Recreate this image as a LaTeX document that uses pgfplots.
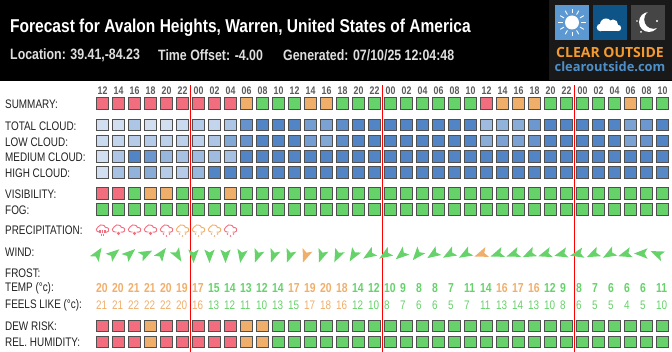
\documentclass[border=0pt]{standalone}
\usepackage{fontspec}
\setmainfont[FakeStretch=0.8]{Liberation Sans}
\newfontfamily\titlefont[FakeStretch=0.835]{Liberation Sans}
\newfontfamily\subfont[FakeStretch=0.825]{Liberation Sans}
\newfontfamily\logofont{Open Sans}
\usepackage{pgfplots}
\usepackage{pgfplotstable}
\pgfplotsset{compat=1.18}
\definecolor{cR}{HTML}{F26D7D}
\definecolor{cO}{HTML}{F0AE6B}
\definecolor{cG}{HTML}{66D26A}
\definecolor{cB}{HTML}{505050}
\definecolor{cHr}{HTML}{5A5A5A}
\definecolor{cLbl}{HTML}{222222}

% i, hour, status rows (R,O,G), cloud rows (percent)
\pgfplotstableread{
i hour summary vis fog dew hum total low medium high
0 12 R R G R R 10 15 10 10
1 14 R R G R R 10 20 35 40
2 16 R G G R R 35 30 100 55
3 18 R O G O O 10 30 80 60
4 20 R O G R R 10 25 50 30
5 22 R G G R R 15 25 40 30
6 00 R G G R R 30 25 45 50
7 02 R G G R R 20 35 45 100
8 04 R O G R R 35 65 40 100
9 06 O G G O O 85 85 100 100
10 08 G G G O O 100 100 100 100
11 10 G G G G G 100 100 100 100
12 12 G G G G G 100 100 100 100
13 14 O G G G G 75 75 100 100
14 16 O G G G G 70 65 100 100
15 18 G G G G G 90 90 100 100
16 20 G G G G G 100 100 100 100
17 22 G G G G G 100 100 100 100
18 00 G G G G G 100 100 100 100
19 02 G G G G G 100 100 100 100
20 04 G G G G G 100 100 100 100
21 06 G G G G G 100 100 100 100
22 08 G G G G G 100 100 100 100
23 10 G G G G G 100 100 100 100
24 12 R G G G G 45 60 100 100
25 14 O G G G G 55 70 100 100
26 16 O G G G G 60 70 100 100
27 18 O G G G G 80 85 100 100
28 20 G G G G G 100 100 100 100
29 22 G G G G G 100 100 100 100
30 00 G G G G G 100 100 100 100
31 02 G G G G G 100 100 100 100
32 04 G G G G G 100 100 100 100
33 06 O G G G G 70 70 100 100
34 08 G G G G G 80 85 100 100
35 10 G G G G G 100 100 100 95
}\cells

% wind: index, arrow direction (deg), y of arrow
\pgfplotstableread{
i ang y
0 57 254
1 39 254
2 41 254
3 27 254
4 54 254
5 -60 255
6 -90 255.5
7 -90 255.5
8 -90 255.5
9 -100 255.5
10 -110 255.5
11 -110 255.5
12 -110 255.5
14 -110 255.5
15 -115 255.5
16 -121 255
17 -147 254.5
18 -147 254.5
19 -140 254.5
20 -130 254.5
21 -146 254
22 -150 254
23 -150 254
25 -160 254
26 -160 254
27 -155 254
28 -162 254
29 -165 254
30 -167 254
31 -155 254
32 -150 254
33 -163 254
34 180 253.5
35 157 254
}\windG
\pgfplotstableread{
i ang y
13 -110 255.5
24 -160 254
}\windO

\pgfplotstableread{
i v
0 20
1 20
2 21
3 21
4 20
5 19
6 17
12 17
13 19
14 20
15 18
25 16
26 17
27 16
}\tempO
\pgfplotstableread{
i v
7 15
8 14
9 13
10 12
11 14
16 14
17 12
18 10
19 9
20 8
21 8
22 7
23 11
24 14
28 12
29 9
30 8
31 7
32 6
33 6
34 6
35 11
}\tempG
\pgfplotstableread{
i v
0 21
1 21
2 22
3 22
4 22
5 20
6 16
13 17
14 18
15 16
}\feelO
\pgfplotstableread{
i v
7 13
8 12
9 11
10 10
11 13
12 15
16 12
17 10
18 8
19 7
20 6
21 6
22 5
23 7
24 11
25 13
26 14
27 13
28 10
29 8
30 6
31 5
32 5
33 4
34 5
35 10
}\feelG

\pgfdeclareplotmark{windarrow}{%
  \pgfpathmoveto{\pgfqpoint{7.5bp}{0bp}}%
  \pgfpathlineto{\pgfqpoint{-6bp}{5.2bp}}%
  \pgfpathlineto{\pgfqpoint{-3bp}{0bp}}%
  \pgfpathlineto{\pgfqpoint{-6bp}{-5.2bp}}%
  \pgfpathclose\pgfusepath{fill}}

\newcommand\cloudpath{%
  \pgfpathmoveto{\pgfqpoint{-3.6bp}{-3.2bp}}%
  \pgfpatharc{-90}{-250}{2.6bp}%
  \pgfpatharc{150}{20}{4.3bp}%
  \pgfpatharc{110}{-90}{2.3bp}%
  \pgfpathlineto{\pgfqpoint{2bp}{-3.2bp}}%
  \pgfpathmoveto{\pgfqpoint{-2bp}{-3.2bp}}%
  \pgfpathlineto{\pgfqpoint{-3.6bp}{-3.2bp}}%
  \pgfusepath{stroke}}
\pgfdeclareplotmark{cloudrain}{%
  \cloudpath
  \pgfsetlinewidth{1.1bp}%
  \pgfpathmoveto{\pgfqpoint{-2.5bp}{-1.5bp}}\pgfpathlineto{\pgfqpoint{-2.5bp}{-4bp}}%
  \pgfpathmoveto{\pgfqpoint{0bp}{-1.5bp}}\pgfpathlineto{\pgfqpoint{0bp}{-4bp}}%
  \pgfpathmoveto{\pgfqpoint{2.5bp}{-1.5bp}}\pgfpathlineto{\pgfqpoint{2.5bp}{-4bp}}%
  \pgfpathmoveto{\pgfqpoint{-1.2bp}{-5bp}}\pgfpathlineto{\pgfqpoint{-1.2bp}{-7.2bp}}%
  \pgfpathmoveto{\pgfqpoint{1.2bp}{-5bp}}\pgfpathlineto{\pgfqpoint{1.2bp}{-7.2bp}}%
  \pgfusepath{stroke}}
\pgfdeclareplotmark{clouddot}{%
  \cloudpath
  \pgfpathcircle{\pgfqpoint{0bp}{-4.6bp}}{1.7bp}\pgfusepath{fill}}
\pgfdeclareplotmark{clouddots}{%
  \cloudpath
  \pgfpathcircle{\pgfqpoint{-3bp}{-5.2bp}}{0.8bp}%
  \pgfpathcircle{\pgfqpoint{3bp}{-5.2bp}}{0.8bp}%
  \pgfpathcircle{\pgfqpoint{0bp}{-7.2bp}}{0.9bp}\pgfusepath{fill}}

\pgfplotsset{
  statusrow/.style={
    only marks, scatter, scatter src=explicit symbolic,
    scatter/classes={
      R={mark=square*,mark size=5.75bp,line width=1bp,draw=cB,fill=cR},
      O={mark=square*,mark size=5.75bp,line width=1bp,draw=cB,fill=cO},
      G={mark=square*,mark size=5.75bp,line width=1bp,draw=cB,fill=cG}}},
  cloudrow/.style={
    only marks, scatter, point meta=explicit, mark=square*, mark size=5.75bp,
    mark options={line width=1bp},
    scatter/use mapped color={draw=cB,fill=mapped color}},
  numrow/.style={
    draw=none, mark=none, point meta=explicit symbolic,
    nodes near coords={\pgfplotspointmeta},
    every node near coord/.style={anchor=west,inner sep=0pt,#1}},
  windrow/.style={
    only marks, scatter, point meta=explicit symbolic, mark=windarrow,
    scatter/@pre marker code/.code={\pgfscope\pgftransformrotate{\pgfplotspointmeta}},
    scatter/@post marker code/.code={\endpgfscope},
    #1},
}
\newcommand\lbl[2]{\node[anchor=west,inner sep=0pt,text=cLbl,font=\fontsize{12.4bp}{13bp}\selectfont] at (5bp,{352bp-#1bp}) {#2};}

\begin{document}
\begin{tikzpicture}[x=1bp,y=1bp]
\path[use as bounding box] (0,0) rectangle (672bp,352bp);
\begin{axis}[
  at={(0,0)}, anchor=south west,
  scale only axis, width=672bp, height=352bp,
  xmin=0, xmax=672, ymin=0, ymax=352, y dir=reverse,
  axis lines=none,
  point meta min=0, point meta max=100,
  colormap={cloud}{rgb255(0)=(224,233,246) rgb255(100)=(81,133,197)},
]
% hours
\addplot[numrow={anchor=center,text=cHr,font=\bfseries\fontsize{11bp}{12bp}\selectfont}]
  table[x expr=102.5+16*\thisrow{i}, y expr=91, meta=hour] {\cells};
% status rows
\addplot[statusrow] table[x expr=102.5+16*\thisrow{i}, y expr=103.5, meta=summary] {\cells};
\addplot[statusrow] table[x expr=102.5+16*\thisrow{i}, y expr=193.5, meta=vis] {\cells};
\addplot[statusrow] table[x expr=102.5+16*\thisrow{i}, y expr=209.5, meta=fog] {\cells};
\addplot[statusrow] table[x expr=102.5+16*\thisrow{i}, y expr=325.8, meta=dew] {\cells};
\addplot[statusrow] table[x expr=102.5+16*\thisrow{i}, y expr=341.8, meta=hum] {\cells};
% cloud rows
\addplot[cloudrow] table[x expr=102.5+16*\thisrow{i}, y expr=125.2, meta=total] {\cells};
\addplot[cloudrow] table[x expr=102.5+16*\thisrow{i}, y expr=140.9, meta=low] {\cells};
\addplot[cloudrow] table[x expr=102.5+16*\thisrow{i}, y expr=156.6, meta=medium] {\cells};
\addplot[cloudrow] table[x expr=102.5+16*\thisrow{i}, y expr=172.4, meta=high] {\cells};
% precipitation
\addplot[only marks, mark=cloudrain, cR, mark options={line width=0.9bp}] coordinates {(102.5,228.8)};
\addplot[only marks, mark=clouddot, cR, mark options={line width=0.9bp}] coordinates {(118.5,228.8)(134.5,228.8)(150.5,228.8)};
\addplot[only marks, mark=clouddots, cR, mark options={line width=0.9bp}] coordinates {(166.5,228.8)(230.5,228.8)};
\addplot[only marks, mark=clouddots, cO, mark options={line width=0.9bp}] coordinates {(182.5,228.8)(198.5,228.8)(214.5,228.8)};
% wind
\addplot[windrow={cG}] table[x expr=97.5+16*\thisrow{i}, y=y, meta=ang] {\windG};
\addplot[windrow={cO}] table[x expr=97.5+16*\thisrow{i}, y=y, meta=ang] {\windO};
% temperature rows
\addplot[numrow={text=cO,font=\bfseries\fontsize{13bp}{14bp}\selectfont}] table[x expr=96+16*\thisrow{i}, y expr=288.3, meta=v] {\tempO};
\addplot[numrow={text=cG,font=\bfseries\fontsize{13bp}{14bp}\selectfont}] table[x expr=96+16*\thisrow{i}, y expr=288.3, meta=v] {\tempG};
\addplot[numrow={text=cO,font=\fontsize{12.4bp}{13bp}\selectfont}] table[x expr=96+16*\thisrow{i}, y expr=305.3, meta=v] {\feelO};
\addplot[numrow={text=cG,font=\fontsize{12.4bp}{13bp}\selectfont}] table[x expr=96+16*\thisrow{i}, y expr=305.3, meta=v] {\feelG};
% day separators
\addplot[red, line width=1.1bp] coordinates {(190.5,85)(190.5,352)};
\addplot[red, line width=1.1bp] coordinates {(382.5,85)(382.5,352)};
\addplot[red, line width=1.1bp] coordinates {(574.5,85)(574.5,352)};
\end{axis}

% row labels
\lbl{104}{SUMMARY:}
\lbl{126}{TOTAL CLOUD:}
\lbl{142}{LOW CLOUD:}
\lbl{157.5}{MEDIUM CLOUD:}
\lbl{173.5}{HIGH CLOUD:}
\lbl{194}{VISIBILITY:}
\lbl{210}{FOG:}
\lbl{230.5}{PRECIPITATION:}
\lbl{252}{WIND:}
\lbl{273}{FROST:}
\lbl{288.5}{TEMP (°c):}
\lbl{305}{FEELS LIKE (°c):}
\lbl{326}{DEW RISK:}
\lbl{342}{REL. HUMIDITY:}

% header
\fill[black] (0,352bp-81bp) rectangle (672bp,352bp);
\node[anchor=west,inner sep=0pt,text=white,font=\titlefont\bfseries\fontsize{18.6bp}{19bp}\selectfont] at (10bp,352bp-28bp) {Forecast for Avalon Heights, Warren, United States of America};
\begin{scope}[every node/.style={anchor=west,inner sep=0pt,text=black!13,font=\subfont\bfseries\fontsize{15bp}{16bp}\selectfont}]
\node at (10bp,352bp-55bp) {Location: 39.41,-84.23};
\node at (158bp,352bp-55bp) {Time Offset: -4.00};
\node at (283bp,352bp-55bp) {Generated: 07/10/25 12:04:48};
\end{scope}

% logo
\fill[black!90] (549bp,352bp-80bp) rectangle (672bp,352bp);
\begin{scope}[shift={(0,352bp)},x=1bp,y=-1bp]
\fill[fill={rgb,255:red,92;green,152;blue,209}] (555,5) rectangle (589,40);
\fill[fill={rgb,255:red,15;green,84;blue,135}] (593,5) rectangle (627,40);
\fill[fill=black!73] (631,5) rectangle (665,40);
% sun
\fill[white] (572,22.5) circle[radius=7];
\foreach \a in {0,30,...,330}{\draw[white,line width=0.9bp] (572,22.5)++(\a:9.2)--++(\a:4.4);}
% cloud
\fill[white] (600.5,27.5) circle[radius=3.8];
\fill[white] (606,24.5) circle[radius=6];
\fill[white] (613,24.5) circle[radius=5];
\fill[white] (618,28) circle[radius=3.2];
\fill[white] (600.5,26) rectangle (618,31.2);
% moon
\fill[white] (649,22) circle[radius=10];
\fill[black!73] (653.5,19.5) circle[radius=9.3];
\fill[white] (657,21) circle[radius=1.2];
\fill[white] (637,21) circle[radius=0.8];
\fill[white] (641,32) circle[radius=1];
\node[anchor=center,inner sep=0pt,text={rgb,255:red,245;green,155;blue,46},font=\logofont\bfseries\fontsize{14bp}{15bp}\selectfont] at (610,52.5) {CLEAR OUTSIDE};
\node[anchor=center,inner sep=0pt,text={rgb,255:red,79;green,143;blue,199},font=\logofont\bfseries\fontsize{12.9bp}{14bp}\selectfont] at (610,67) {clearoutside.com};
\end{scope}
\end{tikzpicture}
\end{document}
